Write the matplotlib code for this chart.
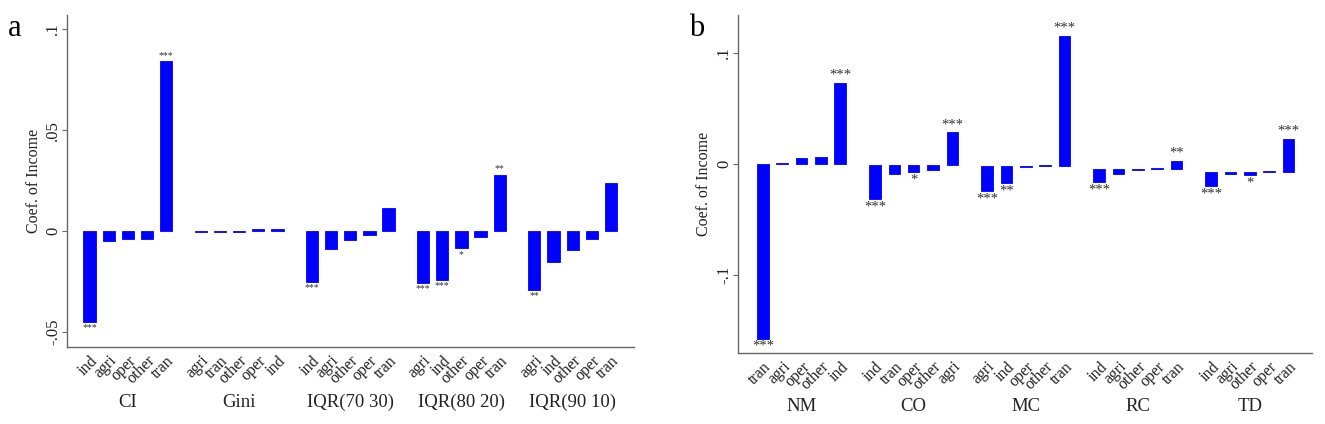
import numpy as np
import matplotlib
matplotlib.use('Agg')
import matplotlib.pyplot as plt
import matplotlib.transforms as mtransforms

plt.rcParams['font.family'] = ['Liberation Serif', 'DejaVu Serif']

# Panel a: inequality measures
groups_a = ['CI', 'Gini', 'IQR(70 30)', 'IQR(80 20)', 'IQR(90 10)']
cats_a = [
    ['ind', 'agri', 'oper', 'other', 'tran'],
    ['agri', 'tran', 'other', 'oper', 'ind'],
    ['ind', 'agri', 'other', 'oper', 'tran'],
    ['agri', 'ind', 'other', 'oper', 'tran'],
    ['agri', 'ind', 'other', 'oper', 'tran'],
]
coef_a = [
    [-0.045, -0.005, -0.004, -0.004, 0.084],
    [-0.0006, -0.0005, -0.0003, 0.0008, 0.0012],
    [-0.025, -0.009, -0.0045, -0.002, 0.0113],
    [-0.0257, -0.0243, -0.0085, -0.003, 0.028],
    [-0.029, -0.0155, -0.0094, -0.004, 0.024],
]
stars_a = [
    ['***', '', '', '', '***'],
    ['', '', '', '', ''],
    ['***', '', '', '', ''],
    ['***', '***', '*', '', '**'],
    ['**', '', '', '', ''],
]

# Panel b: regions
groups_b = ['NM', 'CO', 'MC', 'RC', 'TD']
cats_b = [
    ['tran', 'agri', 'oper', 'other', 'ind'],
    ['ind', 'tran', 'oper', 'other', 'agri'],
    ['agri', 'ind', 'oper', 'other', 'tran'],
    ['ind', 'agri', 'other', 'oper', 'tran'],
    ['ind', 'agri', 'other', 'oper', 'tran'],
]
coef_b = [
    [-0.157, 0.001, 0.0057, 0.0066, 0.0727],
    [-0.0318, -0.0087, -0.0075, -0.0054, 0.0284],
    [-0.0242, -0.0174, -0.0028, -0.0008, 0.115],
    [-0.0165, -0.009, -0.0052, -0.0040, 0.003],
    [-0.0195, -0.0093, -0.0099, -0.0065, 0.0224],
]
# bars in panel b start slightly below zero for the later groups
base_b = [0.0, -0.001, -0.0022, -0.0045, -0.0073]
stars_b = [
    ['***', '', '', '', '***'],
    ['***', '', '*', '', '***'],
    ['***', '**', '', '', '***'],
    ['***', '', '', '', '**'],
    ['***', '', '*', '', '***'],
]

BLUE = '#0000ff'
SPINE = '#666666'
GAP = 5.8


def draw_panel(ax, groups, cats, coefs, stars, bases, width, star_fs, xlim, ylim,
               yticks, yticklabels, group_y):
    pos, labels = [], []
    for g, (cl, vals, st, base) in enumerate(zip(cats, coefs, stars, bases)):
        x = g * GAP + np.arange(len(cl))
        vals = np.array(vals)
        ax.bar(x, vals - base, bottom=base, width=width, color=BLUE,
               edgecolor=BLUE, linewidth=0.6)
        for xi, v, s in zip(x, vals, st):
            if not s:
                continue
            if v >= base:
                ax.annotate(s, (xi, v), xytext=(0, 1), textcoords='offset points',
                            ha='center', va='bottom', fontsize=star_fs, color='#333333')
            else:
                ax.annotate(s, (xi, v), xytext=(0, -1), textcoords='offset points',
                            ha='center', va='top', fontsize=star_fs, color='#333333')
        trans = mtransforms.blended_transform_factory(ax.transData, ax.transAxes)
        ax.text(x.mean(), group_y, groups[g], transform=trans, ha='center',
                va='center', fontsize=13.5, color='#222222')
        pos.extend(x)
        labels.extend(cl)

    ax.set_xlim(*xlim)
    ax.set_ylim(*ylim)
    ax.set_xticks(pos)
    ax.set_xticklabels(labels, rotation=45, ha='right', rotation_mode='anchor',
                       fontsize=11.5, color='#222222')
    ax.tick_params(axis='x', length=0, pad=4)
    ax.set_yticks(yticks)
    ax.set_yticklabels(yticklabels, rotation=90, va='center', fontsize=12,
                       color='#222222')
    ax.tick_params(axis='y', length=3.6, width=0.8, color=SPINE, pad=0.5)
    for side in ['top', 'right']:
        ax.spines[side].set_visible(False)
    for side in ['left', 'bottom']:
        ax.spines[side].set_color(SPINE)
        ax.spines[side].set_linewidth(1.0)
    ax.set_ylabel('Coef. of Income', fontsize=11.5, color='#222222')


fig = plt.figure(figsize=(13.25, 4.24), dpi=100)
ax_a = fig.add_axes([0.0506, 0.1816, 0.4279, 0.783])
ax_b = fig.add_axes([0.557, 0.1675, 0.433, 0.797])

draw_panel(ax_a, groups_a, cats_a, coef_a, stars_a, [0] * 5, 0.64, 7,
           (-1.17, 28.4), (-0.0574, 0.107), [-0.05, 0, 0.05, 0.1],
           ['-.05', '0', '.05', '.1'], -0.166)
draw_panel(ax_b, groups_b, cats_b, coef_b, stars_b, base_b, 0.6, 10.5,
           (-1.29, 28.4), (-0.17, 0.134), [-0.1, 0, 0.1],
           ['-.1', '0', '.1'], -0.157)

ax_a.yaxis.set_label_coords(-0.045, 0.5)
ax_b.yaxis.set_label_coords(-0.046, 0.5)

fig.text(15 / 1325, 1 - 28 / 424, 'a', fontsize=22, ha='center', va='center')
fig.text(697 / 1325, 1 - 28 / 424, 'b', fontsize=22, ha='center', va='center')

fig.savefig('out.png', dpi=100, facecolor='white')
